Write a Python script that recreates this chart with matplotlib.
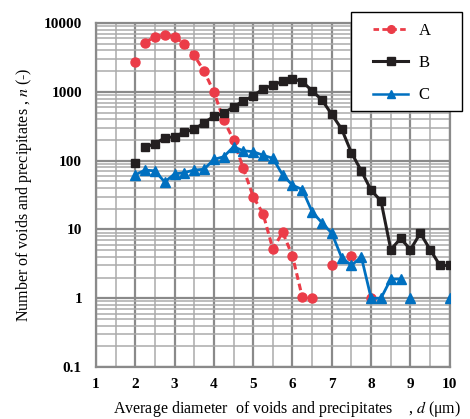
import numpy as np
import matplotlib.pyplot as plt
from matplotlib.patches import Rectangle
from matplotlib.ticker import FixedLocator, LogLocator, NullFormatter

plt.rcParams['font.family'] = ['Liberation Serif', 'DejaVu Serif']
plt.rcParams['mathtext.fontset'] = 'stix'

# series A (dashed red, circles); NaN = no line drawn through that step
a_d = [2.0, 2.25, 2.5, 2.75, 3.0, 3.25, 3.5, 3.75, 4.0, 4.25, 4.5, 4.75, 5.0,
       5.25, 5.5, 5.75, 6.0, 6.25, 6.5, 6.75, 7.0, 7.25, 7.5, 7.75, 8.0]
a_n = [2700, 5200, 6300, 6800, 6300, 5000, 3400, 2000, 1000, 390, 200, 77, 30,
       17, 5.2, 9.1, 4.1, 1.03, 1.0, np.nan, 3.0, np.nan, 4.1, np.nan, 1.0]

# series B (black, squares)
b_d = [2.0, 2.25, 2.5, 2.75, 3.0, 3.25, 3.5, 3.75, 4.0, 4.25, 4.5, 4.75, 5.0,
       5.25, 5.5, 5.75, 6.0, 6.25, 6.5, 6.75, 7.0, 7.25, 7.5, 7.75, 8.0, 8.25,
       8.5, 8.75, 9.0, 9.25, 9.5, 9.75, 10.0]
b_n = [93, 159, 174, 215, 222, 261, 285, 355, 440, 487, 607, 735, 877,
       1096, 1256, 1422, 1550, 1403, 1037, 760, 470, 288, 130, 71, 37, 26,
       5.1, 7.4, 5.1, 8.8, 5.1, 3.0, 3.0]

# series C (blue, triangles)
c_d = [2.0, 2.25, 2.5, 2.75, 3.0, 3.25, 3.5, 3.75, 4.0, 4.25, 4.5, 4.75, 5.0,
       5.25, 5.5, 5.75, 6.0, 6.25, 6.5, 6.75, 7.0, 7.25, 7.5, 7.75, 8.0, 8.25,
       8.5, 8.75, 9.0, 10.0]
c_n = [62, 73, 71, 49, 64, 67, 73, 75, 104, 114, 159, 139, 135,
       120, 108, 62, 44, 38, 18, 12.5, 8.8, 3.9, 3.0, 4.0, 1.0, 1.0,
       1.9, 1.9, 1.0, 1.0]

x_ticks = [1, 2, 3, 4, 5, 6, 7, 8, 9, 10]
y_ticks = [0.1, 1, 10, 100, 1000, 10000]
y_labels = ['0.1', '1', '10', '100', '1000', '10000']

red = '#EB3C48'
black = '#231F20'
blue = '#0070C0'

fig = plt.figure(figsize=(4.7, 4.19), dpi=100)
ax = fig.add_axes([0.204, 0.124, 0.753, 0.821])
ax.set_yscale('log')
ax.set_xlim(1, 10)
ax.set_ylim(0.1, 10000)

# lines: point at d=2 of A and B stand apart from the rest
ax.plot(a_d[1:], a_n[1:], ls=(0, (2.2, 1.3)), lw=2.2, color=red, zorder=3)
ax.plot(b_d[1:], b_n[1:], ls='-', lw=2.2, color=black, zorder=3)
c_end = c_d.index(8.75) + 1
ax.plot(c_d[:c_end], c_n[:c_end], ls='-', lw=2.0, color=blue, zorder=4)

ax.plot(a_d, a_n, ls='none', marker='o', ms=6.5, color=red, zorder=3)
ax.plot(b_d, b_n, ls='none', marker='s', ms=6, color=black, zorder=3)
ax.plot(c_d, c_n, ls='none', marker='^', ms=7, color=blue, zorder=4)

# legend box (drawn separately so padding can differ per side)
fig.add_artist(Rectangle((0.7468, 0.7351), 0.2362, 0.2363, transform=fig.transFigure,
                         facecolor='white', edgecolor='black', lw=1.0, zorder=5))
hA, = ax.plot([], [], ls=(0, (2.0, 1.2)), lw=2.0, color=red, marker='o', ms=5.5)
hB, = ax.plot([], [], ls='-', lw=2.2, color=black, marker='s', ms=6)
hC, = ax.plot([], [], ls='-', lw=1.8, color=blue, marker='^', ms=6)
leg = fig.legend([hA, hB, hC], ['A', 'B', 'C'], loc='upper left',
                 bbox_to_anchor=(373 / 470, 0.945), frameon=False, fontsize=12,
                 handlelength=2.1, handletextpad=0.65, labelspacing=0.97,
                 borderpad=0, borderaxespad=0)
leg.set_zorder(10)

ax.xaxis.set_major_locator(FixedLocator(x_ticks))
ax.xaxis.set_minor_locator(FixedLocator(np.arange(1.5, 10, 1.0)))
ax.yaxis.set_major_locator(FixedLocator(y_ticks))
ax.yaxis.set_minor_locator(LogLocator(base=10, subs=np.arange(2, 10)))
ax.yaxis.set_minor_formatter(NullFormatter())
ax.set_xticklabels([str(t) for t in x_ticks])
ax.set_yticklabels(y_labels)
ax.tick_params(which='both', length=0, labelsize=11)
ax.tick_params(axis='x', pad=8)
ax.tick_params(axis='y', pad=10)
for lab in ax.get_xticklabels() + ax.get_yticklabels():
    lab.set_fontweight('bold')

ax.grid(which='major', color='#8a8a8a', lw=1.6, zorder=0)
ax.grid(which='minor', color='#ababab', lw=1.1, zorder=0)
ax.set_axisbelow(True)
for s in ax.spines.values():
    s.set_color('#8a8a8a')
    s.set_linewidth(1.6)

ax.set_ylabel('Number of voids and precipitates , $n$ (-)', fontsize=11.5)
ax.yaxis.set_label_coords(-0.175, 0.5)
ax.set_xlabel('Average diameter  of voids and precipitates    , $d$ (\u03bcm)',
              fontsize=11.5)
ax.xaxis.set_label_coords(0.54, -0.094)

fig.savefig('out.png', dpi=100)
